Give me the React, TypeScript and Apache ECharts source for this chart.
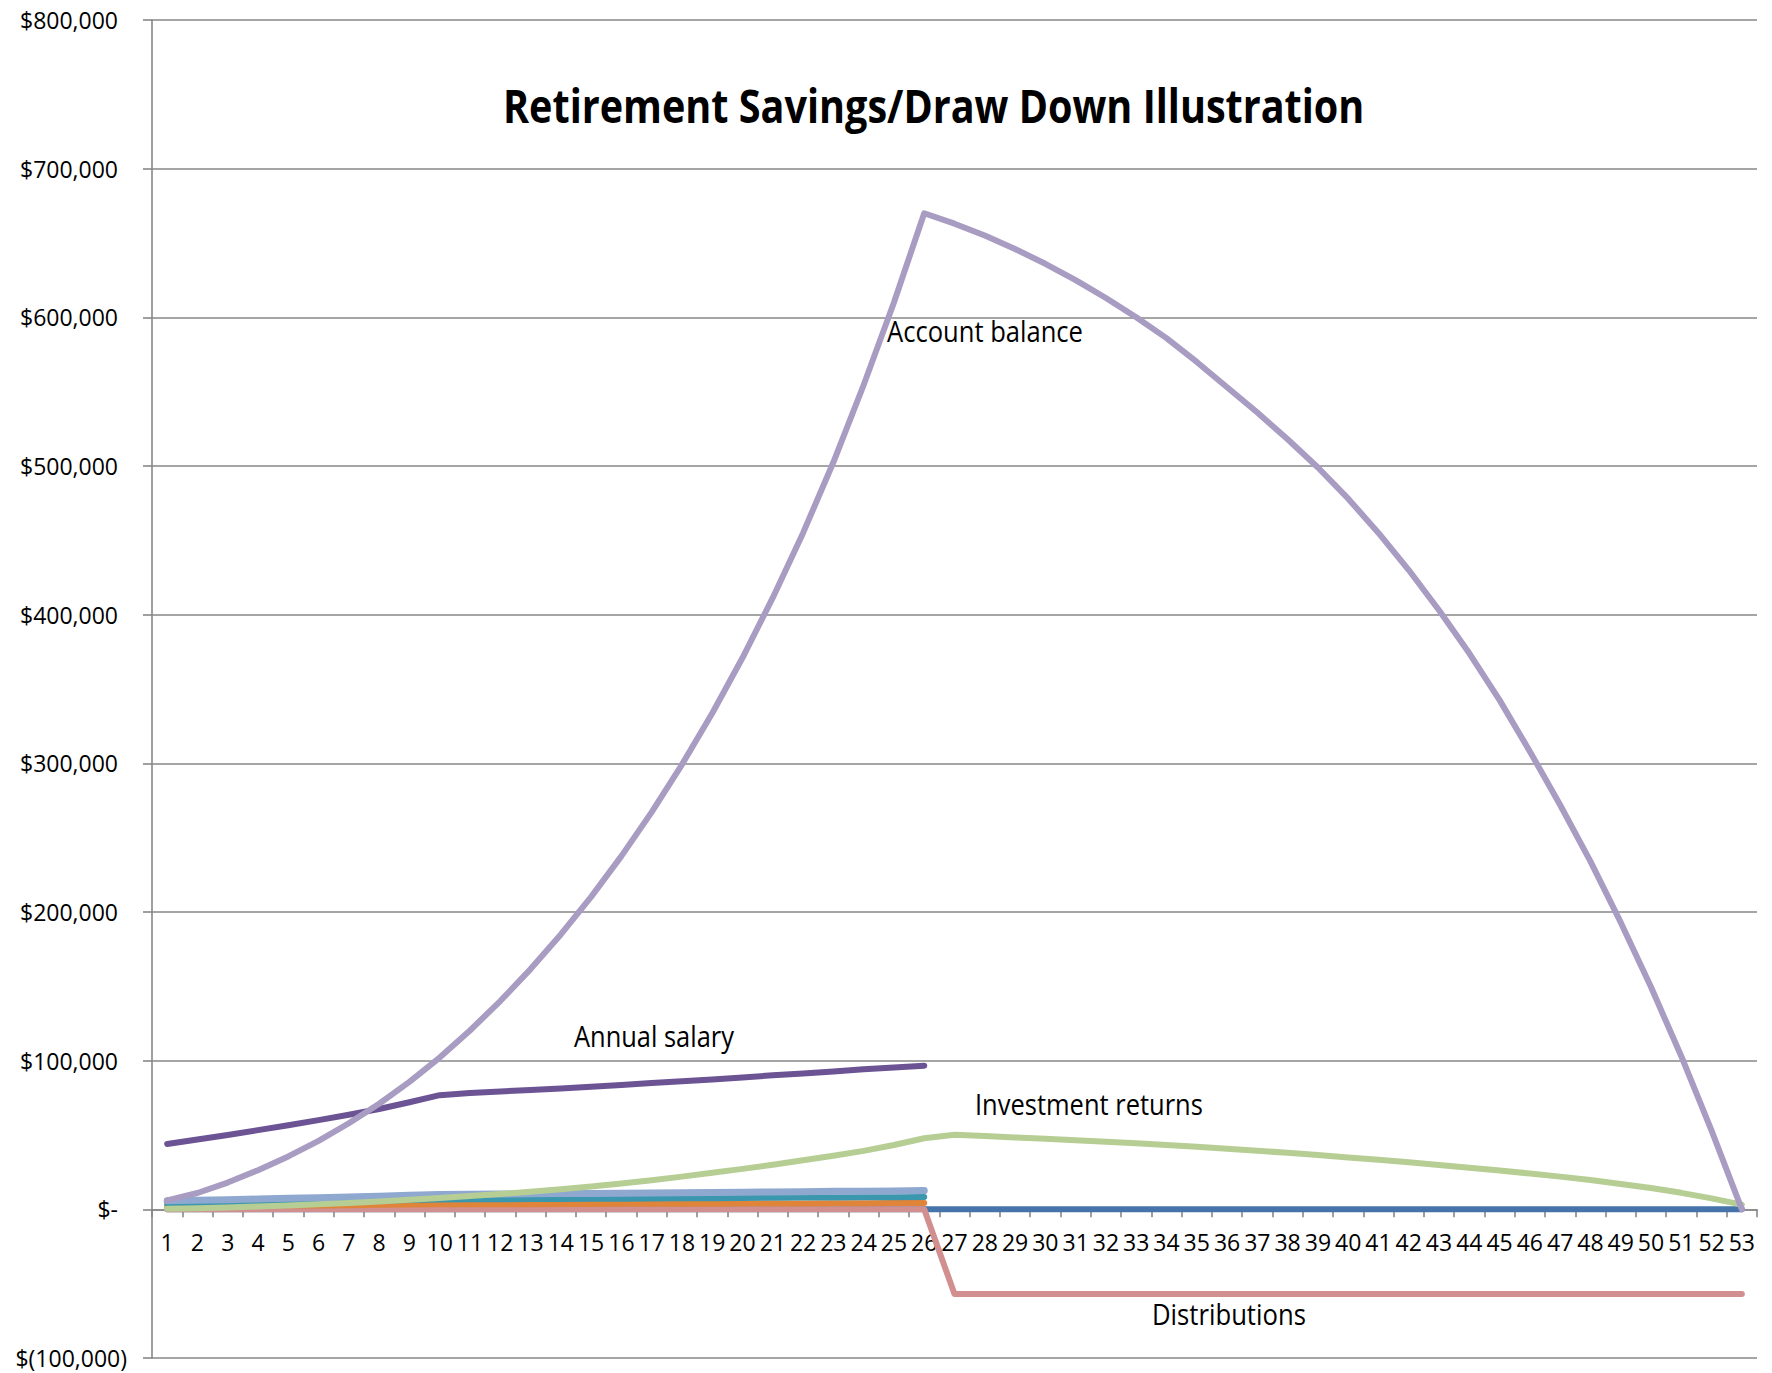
import React, { useEffect, useRef } from "react";
import * as echarts from "echarts";

const years = [
  "1", "2", "3", "4", "5", "6", "7", "8", "9", "10",
  "11", "12", "13", "14", "15", "16", "17", "18", "19", "20",
  "21", "22", "23", "24", "25", "26", "27", "28", "29", "30",
  "31", "32", "33", "34", "35", "36", "37", "38", "39", "40",
  "41", "42", "43", "44", "45", "46", "47", "48", "49", "50",
  "51", "52", "53",
];

const yTicks = { min: -100000, max: 800000, step: 100000 };

const accountBalance = [
  6000, 11000, 18000, 26300, 35600, 46100, 57900, 71000, 85700, 102100,
  120300, 140100, 161600, 184900, 210200, 237600, 267200, 299200, 333700, 371000,
  411400, 455000, 502500, 554500, 610000, 670000, 663000, 655000, 646000, 636000,
  625000, 613000, 600000, 586000, 570000, 553000, 536000, 518000, 499000, 478000,
  455000, 430000, 403000, 374000, 342500, 308000, 272000, 234000, 193000, 149500,
  103000, 53000, 0,
];

const annualSalary = [
  44000, 47000, 50000, 53300, 56600, 60000, 63600, 67500, 72000, 76800,
  78300, 79300, 80200, 81200, 82400, 83600, 84900, 86200, 87300, 88700,
  90200, 91300, 92700, 94200, 95400, 96600,
];

const investmentReturns = [
  400, 800, 1300, 1900, 2600, 3400, 4300, 5300, 6400, 7600,
  8900, 10300, 11800, 13500, 15400, 17400, 19600, 22000, 24600, 27200,
  30000, 33000, 36000, 39300, 43300, 47800, 50200, 49300, 48400, 47500,
  46500, 45500, 44400, 43300, 42100, 40800, 39400, 38000, 36500, 34900,
  33300, 31600, 29800, 28000, 26100, 24100, 22000, 19700, 17100, 14300,
  11100, 7400, 3200,
];

const totalContributions = [
  5700, 6100, 6500, 6900, 7400, 7800, 8300, 8800, 9400, 10000,
  10200, 10300, 10400, 10600, 10700, 10900, 11000, 11200, 11300, 11500,
  11700, 11900, 12100, 12200, 12400, 12600,
];

const employeeContributions = [
  3800, 4000, 4300, 4600, 4900, 5200, 5500, 5800, 6200, 6600,
  6700, 6800, 6900, 7000, 7100, 7200, 7300, 7400, 7500, 7600,
  7800, 7900, 8000, 8100, 8200, 8300,
];

const employerMatch = [
  1900, 2100, 2200, 2300, 2500, 2600, 2800, 3000, 3200, 3400,
  3400, 3500, 3500, 3600, 3600, 3700, 3700, 3800, 3800, 3900,
  4000, 4000, 4100, 4100, 4200, 4200,
];

const distributions = [
  0, 0, 0, 0, 0, 0, 0, 0, 0, 0,
  0, 0, 0, 0, 0, 0, 0, 0, 0, 0,
  0, 0, 0, 0, 0, 0, -57000, -57000, -57000, -57000,
  -57000, -57000, -57000, -57000, -57000, -57000, -57000, -57000, -57000, -57000,
  -57000, -57000, -57000, -57000, -57000, -57000, -57000, -57000, -57000, -57000,
  -57000, -57000, -57000,
];

const withdrawals = [
  0, 0, 0, 0, 0, 0, 0, 0, 0, 0,
  0, 0, 0, 0, 0, 0, 0, 0, 0, 0,
  0, 0, 0, 0, 0, 0, 0, 0, 0, 0,
  0, 0, 0, 0, 0, 0, 0, 0, 0, 0,
  0, 0, 0, 0, 0, 0, 0, 0, 0, 0,
  0, 0, 0,
];

const titleText = "Retirement Savings/Draw Down Illustration";
const FONT = "'Open Sans', sans-serif";

function measureWidth(text: string, font: string): number {
  const c = document.createElement("canvas");
  const ctx = c.getContext("2d");
  if (!ctx) return 1;
  ctx.font = font;
  return ctx.measureText(text).width || 1;
}

function fmtThousands(v: number): string {
  return Math.round(v).toString().replace(/\B(?=(\d{3})+(?!\d))/g, ",");
}

function fittedText(text: string, x: number, y: number, size: number, weight: string, targetWidth: number) {
  const w = measureWidth(text, `${weight} ${size}px ${FONT}`);
  return {
    type: "text",
    x,
    y,
    scaleX: targetWidth / w,
    silent: true,
    style: {
      text,
      fill: "#000000",
      fontSize: size,
      fontWeight: weight,
      fontFamily: FONT,
      align: "left",
      verticalAlign: "middle",
      textAlign: "left",
      textVerticalAlign: "middle",
    },
  };
}

function lineSeries(name: string, data: number[], color: string, width: number) {
  return {
    name,
    type: "line",
    data,
    showSymbol: false,
    symbol: "none",
    smooth: false,
    lineStyle: { color, width, cap: "round", join: "round" },
    itemStyle: { color },
    emphasis: { disabled: true },
  };
}

export default function App() {
  const ref = useRef<HTMLDivElement>(null);

  useEffect(() => {
    document.body.style.margin = "0";
    if (!ref.current) return;
    const chart = echarts.init(ref.current, null, { renderer: "svg" });

    const option: any = {
      animation: false,
      backgroundColor: "#ffffff",
      grid: {
        left: 152,
        right: 15,
        top: 20,
        bottom: 15,
        containLabel: false,
        outerBoundsMode: "none",
      },
      xAxis: {
        type: "category",
        data: years,
        position: "bottom",
        offset: 0,
        boundaryGap: true,
        axisLine: { show: true, onZero: false, lineStyle: { color: "#878787", width: 1.6 } },
        axisTick: { show: true, interval: 0, length: 8, lineStyle: { color: "#878787", width: 1.6 } },
        axisLabel: {
          interval: 0,
          margin: 21,
          color: "#000000",
          fontSize: 23,
          fontFamily: FONT,
        },
        splitLine: { show: false },
      },
      yAxis: {
        type: "value",
        min: yTicks.min,
        max: yTicks.max,
        interval: yTicks.step,
        axisLine: { show: true, onZero: false, lineStyle: { color: "#878787", width: 1.6 } },
        axisTick: { show: true, length: 9, lineStyle: { color: "#878787", width: 1.6 } },
        splitLine: { show: true, lineStyle: { color: "#878787", width: 1.6 } },
        axisLabel: {
          margin: 25,
          color: "#000000",
          fontSize: 23,
          fontFamily: FONT,
          formatter: (v: number) => {
            if (v === 0) return "{pos|$-}";
            if (v < 0) return "{neg|$(" + fmtThousands(-v) + ")}";
            return "{pos|$" + fmtThousands(v) + "}";
          },
          rich: {
            pos: { fontSize: 23, fontFamily: FONT, color: "#000000", padding: [0, 9, 0, 0] },
            neg: { fontSize: 23, fontFamily: FONT, color: "#000000" },
          },
        },
      },
      series: [
        lineSeries("Withdrawals", withdrawals, "#4674AA", 6),
        lineSeries("Distributions", distributions, "#D18F8F", 6),
        lineSeries("Employer match", employerMatch, "#DF8439", 6),
        lineSeries("Employee contributions", employeeContributions, "#3A97AE", 6),
        lineSeries("Total contributions", totalContributions, "#8EA8D0", 7),
        lineSeries("Investment returns", investmentReturns, "#B6CE94", 6),
        lineSeries("Annual salary", annualSalary, "#6B5394", 6),
        lineSeries("Account balance", accountBalance, "#A99CC2", 6),
      ],
      graphic: [
        fittedText(titleText, 503, 105, 47, "bold", 862),
        fittedText("Account balance", 887, 331, 29, "normal", 196),
        fittedText("Annual salary", 574, 1036, 29, "normal", 160),
        fittedText("Investment returns", 975, 1104, 29, "normal", 228),
        fittedText("Distributions", 1152, 1314, 29, "normal", 154),
      ],
    };

    chart.setOption(option);

    // Move the category axis (line, ticks and labels) up to the value-axis zero.
    const zeroY = chart.convertToPixel({ yAxisIndex: 0 }, 0) as number;
    const bottomY = chart.convertToPixel({ yAxisIndex: 0 }, yTicks.min) as number;
    if (isFinite(zeroY) && isFinite(bottomY)) {
      chart.setOption({ xAxis: { offset: zeroY - bottomY } });
    }

    return () => chart.dispose();
  }, []);

  return <div ref={ref} style={{ width: 1772, height: 1373 }} />;
}
